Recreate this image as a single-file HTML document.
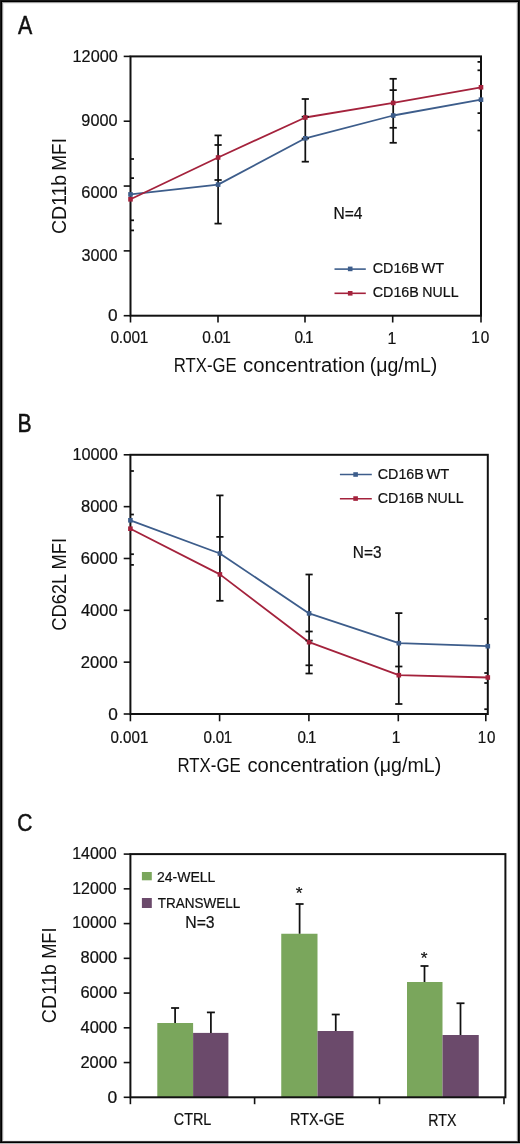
<!DOCTYPE html>
<html><head><meta charset="utf-8"><style>
html,body{margin:0;padding:0;background:#fff;overflow:hidden;width:520px;height:1144px;}
svg{display:block;will-change:transform;}
text{font-family:"Liberation Sans", sans-serif;fill:#111;}
</style></head><body>
<svg width="520" height="1144" viewBox="0 0 520 1144">
<rect x="0" y="0" width="520" height="1144" fill="#fff"/>
<rect x="0" y="0" width="520" height="1" fill="#161616"/>
<rect x="0" y="1" width="520" height="1" fill="#000"/>
<rect x="2" y="2" width="516" height="1" fill="#9c9c9c"/>
<rect x="3" y="3" width="514" height="1" fill="#eeeeee"/>
<rect x="0" y="0" width="1" height="1143" fill="#181818"/>
<rect x="1" y="1" width="1" height="1142" fill="#000"/>
<rect x="2" y="2" width="1" height="1139" fill="#929292"/>
<rect x="3" y="3" width="1" height="1137" fill="#e8e8e8"/>
<rect x="519" y="0" width="1" height="1143" fill="#181818"/>
<rect x="518" y="1" width="1" height="1142" fill="#000"/>
<rect x="517" y="2" width="1" height="1139" fill="#929292"/>
<rect x="516" y="3" width="1" height="1137" fill="#e8e8e8"/>
<rect x="3" y="1140" width="514" height="1" fill="#f2f2f2"/>
<rect x="2" y="1141" width="516" height="1" fill="#3a3a3a"/>
<rect x="0" y="1142" width="520" height="1" fill="#000"/>
<rect x="0" y="1143" width="520" height="1" fill="#b4b4b4"/>
<rect x="130.5" y="56.4" width="350.5" height="259.3" fill="none" stroke="#111" stroke-width="2.0"/>
<line x1="123.7" y1="315.7" x2="130.5" y2="315.7" stroke="#111" stroke-width="1.6"/>
<line x1="123.7" y1="250.88" x2="130.5" y2="250.88" stroke="#111" stroke-width="1.6"/>
<line x1="123.7" y1="186.05" x2="130.5" y2="186.05" stroke="#111" stroke-width="1.6"/>
<line x1="123.7" y1="121.22" x2="130.5" y2="121.22" stroke="#111" stroke-width="1.6"/>
<line x1="123.7" y1="56.4" x2="130.5" y2="56.4" stroke="#111" stroke-width="1.6"/>
<text font-size="17.183" stroke="#111" stroke-width="0.22" transform="translate(72.58,62.33) scale(0.9456,1)">12000</text>
<text font-size="16.761" stroke="#111" stroke-width="0.22" transform="translate(81.37,125.73) scale(0.9702,1)">9000</text>
<text font-size="16.761" stroke="#111" stroke-width="0.22" transform="translate(81.28,197.53) scale(0.9781,1)">6000</text>
<text font-size="17.042" stroke="#111" stroke-width="0.22" transform="translate(81.45,261.33) scale(0.9520,1)">3000</text>
<text font-size="17.324" stroke="#111" stroke-width="0.22" transform="translate(108.01,320.53) scale(0.9965,1)">0</text>
<line x1="130.5" y1="315.7" x2="130.5" y2="322.5" stroke="#111" stroke-width="1.6"/>
<line x1="218" y1="315.7" x2="218" y2="322.5" stroke="#111" stroke-width="1.6"/>
<line x1="305" y1="315.7" x2="305" y2="322.5" stroke="#111" stroke-width="1.6"/>
<line x1="392.7" y1="315.7" x2="392.7" y2="322.5" stroke="#111" stroke-width="1.6"/>
<line x1="481" y1="315.7" x2="481" y2="322.5" stroke="#111" stroke-width="1.6"/>
<text font-size="16.761" stroke="#111" stroke-width="0.22" letter-spacing="-0.146" transform="translate(110.38,343.33) scale(0.9200,1)">0.001</text>
<text font-size="16.761" stroke="#111" stroke-width="0.22" letter-spacing="-0.509" transform="translate(202.28,343.33) scale(0.9200,1)">0.01</text>
<text font-size="16.761" stroke="#111" stroke-width="0.22" letter-spacing="-1.329" transform="translate(294.58,343.33) scale(0.9200,1)">0.1</text>
<text font-size="17.246" stroke="#111" stroke-width="0.22" letter-spacing="0.000" transform="translate(387.50,343.50) scale(0.9200,1)">1</text>
<text font-size="16.761" stroke="#111" stroke-width="0.22" letter-spacing="0.957" transform="translate(471.34,343.33) scale(0.9200,1)">10</text>
<polyline points="130.5,194.4 218.1,184.6 305.3,138.3 393.2,115.5 481.0,99.7" fill="none" stroke="#3d5d8b" stroke-width="1.8" stroke-linejoin="round"/>
<polyline points="130.5,199.3 218.1,157.5 305.3,117.5 393.2,102.9 481.0,87.3" fill="none" stroke="#a4223c" stroke-width="1.8" stroke-linejoin="round"/>
<line x1="130.5" y1="159" x2="134" y2="159" stroke="#111" stroke-width="1.75"/>
<line x1="130.5" y1="178.1" x2="134" y2="178.1" stroke="#111" stroke-width="1.75"/>
<line x1="130.5" y1="220.3" x2="134" y2="220.3" stroke="#111" stroke-width="1.75"/>
<line x1="130.5" y1="230.4" x2="134" y2="230.4" stroke="#111" stroke-width="1.75"/>
<line x1="218.1" y1="135.4" x2="218.1" y2="223.6" stroke="#111" stroke-width="1.75"/>
<line x1="214.5" y1="135.4" x2="221.7" y2="135.4" stroke="#111" stroke-width="1.75"/>
<line x1="214.5" y1="145" x2="221.7" y2="145" stroke="#111" stroke-width="1.75"/>
<line x1="214.5" y1="180" x2="221.7" y2="180" stroke="#111" stroke-width="1.75"/>
<line x1="214.5" y1="223.6" x2="221.7" y2="223.6" stroke="#111" stroke-width="1.75"/>
<line x1="305.3" y1="99" x2="305.3" y2="161.7" stroke="#111" stroke-width="1.75"/>
<line x1="301.7" y1="99" x2="308.9" y2="99" stroke="#111" stroke-width="1.75"/>
<line x1="301.7" y1="116.7" x2="308.9" y2="116.7" stroke="#111" stroke-width="1.75"/>
<line x1="301.7" y1="138.5" x2="308.9" y2="138.5" stroke="#111" stroke-width="1.75"/>
<line x1="301.7" y1="161.7" x2="308.9" y2="161.7" stroke="#111" stroke-width="1.75"/>
<line x1="393.2" y1="78.8" x2="393.2" y2="142.8" stroke="#111" stroke-width="1.75"/>
<line x1="389.6" y1="78.8" x2="396.8" y2="78.8" stroke="#111" stroke-width="1.75"/>
<line x1="389.6" y1="90.1" x2="396.8" y2="90.1" stroke="#111" stroke-width="1.75"/>
<line x1="389.6" y1="127.8" x2="396.8" y2="127.8" stroke="#111" stroke-width="1.75"/>
<line x1="389.6" y1="142.8" x2="396.8" y2="142.8" stroke="#111" stroke-width="1.75"/>
<line x1="477.5" y1="61.9" x2="481" y2="61.9" stroke="#111" stroke-width="1.75"/>
<line x1="477.5" y1="70.3" x2="481" y2="70.3" stroke="#111" stroke-width="1.75"/>
<line x1="477.5" y1="113.1" x2="481" y2="113.1" stroke="#111" stroke-width="1.75"/>
<line x1="477.5" y1="130.5" x2="481" y2="130.5" stroke="#111" stroke-width="1.75"/>
<rect x="128.2" y="192.1" width="4.6" height="4.6" fill="#3d5d8b"/>
<rect x="215.8" y="182.3" width="4.6" height="4.6" fill="#3d5d8b"/>
<rect x="303" y="136" width="4.6" height="4.6" fill="#3d5d8b"/>
<rect x="390.9" y="113.2" width="4.6" height="4.6" fill="#3d5d8b"/>
<rect x="478.7" y="97.4" width="4.6" height="4.6" fill="#3d5d8b"/>
<rect x="128.2" y="197" width="4.6" height="4.6" fill="#a4223c"/>
<rect x="215.8" y="155.2" width="4.6" height="4.6" fill="#a4223c"/>
<rect x="303" y="115.2" width="4.6" height="4.6" fill="#a4223c"/>
<rect x="390.9" y="100.6" width="4.6" height="4.6" fill="#a4223c"/>
<rect x="478.7" y="85" width="4.6" height="4.6" fill="#a4223c"/>
<line x1="334.5" y1="269.1" x2="365.8" y2="269.1" stroke="#3d5d8b" stroke-width="1.6"/>
<rect x="347.9" y="266.6" width="4.6" height="4.6" fill="#3d5d8b"/>
<line x1="334.5" y1="293.3" x2="365.8" y2="293.3" stroke="#a4223c" stroke-width="1.6"/>
<rect x="347.9" y="291" width="4.6" height="4.6" fill="#a4223c"/>
<text font-size="15.357" stroke="#111" stroke-width="0.22" transform="translate(372.79,273.00) scale(0.9308,1)">CD16B</text>
<text font-size="15.357" stroke="#111" stroke-width="0.22" transform="translate(421.43,273.00) scale(0.9522,1)">WT</text>
<text font-size="15.357" stroke="#111" stroke-width="0.22" transform="translate(372.79,297.40) scale(0.9308,1)">CD16B</text>
<text font-size="15.357" stroke="#111" stroke-width="0.22" transform="translate(422.37,297.40) scale(0.9215,1)">NULL</text>
<text font-size="16.087" stroke="#111" stroke-width="0.22" transform="translate(333.46,218.80) scale(0.9670,1)">N=4</text>
<text font-size="19.571" transform="translate(173.76,371.60) scale(0.8546,1)">RTX-GE</text>
<text font-size="19.571" transform="translate(243.09,371.60) scale(1.0375,1)">concentration</text>
<text font-size="19.571" transform="translate(369.73,371.60) scale(0.9975,1)">(μg/mL)</text>
<text font-size="20.429" transform="translate(66.00,234.08) rotate(-90) scale(0.9558,1)">CD11b</text>
<text font-size="20.429" transform="translate(66.00,170.72) rotate(-90) scale(0.9285,1)">MFI</text>
<text font-size="25.255" stroke="#111" stroke-width="0.5" transform="translate(18.09,34.30) scale(0.8459,1)">A</text>
<rect x="130.4" y="454.8" width="357.4" height="259.2" fill="none" stroke="#111" stroke-width="2.0"/>
<line x1="123.7" y1="714" x2="130.4" y2="714" stroke="#111" stroke-width="1.6"/>
<line x1="123.7" y1="662.16" x2="130.4" y2="662.16" stroke="#111" stroke-width="1.6"/>
<line x1="123.7" y1="610.32" x2="130.4" y2="610.32" stroke="#111" stroke-width="1.6"/>
<line x1="123.7" y1="558.48" x2="130.4" y2="558.48" stroke="#111" stroke-width="1.6"/>
<line x1="123.7" y1="506.64" x2="130.4" y2="506.64" stroke="#111" stroke-width="1.6"/>
<line x1="123.7" y1="454.8" x2="130.4" y2="454.8" stroke="#111" stroke-width="1.6"/>
<text font-size="16.620" stroke="#111" stroke-width="0.22" transform="translate(72.43,459.63) scale(0.9810,1)">10000</text>
<text font-size="16.479" stroke="#111" stroke-width="0.22" transform="translate(80.96,511.54) scale(1.0038,1)">8000</text>
<text font-size="16.690" stroke="#111" stroke-width="0.22" transform="translate(80.87,563.58) scale(0.9934,1)">6000</text>
<text font-size="16.972" stroke="#111" stroke-width="0.22" transform="translate(80.89,615.53) scale(0.9766,1)">4000</text>
<text font-size="16.690" stroke="#111" stroke-width="0.22" transform="translate(80.87,667.93) scale(0.9934,1)">2000</text>
<text font-size="16.620" stroke="#111" stroke-width="0.22" transform="translate(108.21,719.83) scale(1.0387,1)">0</text>
<line x1="130.4" y1="714" x2="130.4" y2="721.3" stroke="#111" stroke-width="1.6"/>
<line x1="219.6" y1="714" x2="219.6" y2="721.3" stroke="#111" stroke-width="1.6"/>
<line x1="308.9" y1="714" x2="308.9" y2="721.3" stroke="#111" stroke-width="1.6"/>
<line x1="398.3" y1="714" x2="398.3" y2="721.3" stroke="#111" stroke-width="1.6"/>
<line x1="485.8" y1="714" x2="485.8" y2="721.3" stroke="#111" stroke-width="1.6"/>
<text font-size="16.479" stroke="#111" stroke-width="0.22" letter-spacing="0.024" transform="translate(110.39,742.54) scale(0.9200,1)">0.001</text>
<text font-size="16.479" stroke="#111" stroke-width="0.22" letter-spacing="-0.262" transform="translate(203.49,742.54) scale(0.9200,1)">0.01</text>
<text font-size="16.479" stroke="#111" stroke-width="0.22" letter-spacing="-1.092" transform="translate(297.49,742.54) scale(0.9200,1)">0.1</text>
<text font-size="16.957" stroke="#111" stroke-width="0.22" letter-spacing="0.000" transform="translate(391.63,742.70) scale(0.9200,1)">1</text>
<text font-size="16.479" stroke="#111" stroke-width="0.22" letter-spacing="0.912" transform="translate(477.66,742.54) scale(0.9200,1)">10</text>
<polyline points="130.4,520.3 219.9,553.5 309.1,613.4 398.8,643.2 487.8,646.2" fill="none" stroke="#3d5d8b" stroke-width="1.8" stroke-linejoin="round"/>
<polyline points="130.4,528.7 219.9,574.4 309.1,642.2 398.8,675.2 487.8,677.5" fill="none" stroke="#a4223c" stroke-width="1.8" stroke-linejoin="round"/>
<line x1="130.4" y1="471" x2="133.9" y2="471" stroke="#111" stroke-width="1.75"/>
<line x1="130.4" y1="514.5" x2="133.9" y2="514.5" stroke="#111" stroke-width="1.75"/>
<line x1="130.4" y1="554.2" x2="133.9" y2="554.2" stroke="#111" stroke-width="1.75"/>
<line x1="130.4" y1="564.9" x2="133.9" y2="564.9" stroke="#111" stroke-width="1.75"/>
<line x1="219.9" y1="495.4" x2="219.9" y2="600.8" stroke="#111" stroke-width="1.75"/>
<line x1="216.3" y1="495.4" x2="223.5" y2="495.4" stroke="#111" stroke-width="1.75"/>
<line x1="216.3" y1="536.9" x2="223.5" y2="536.9" stroke="#111" stroke-width="1.75"/>
<line x1="216.3" y1="600.8" x2="223.5" y2="600.8" stroke="#111" stroke-width="1.75"/>
<line x1="309.1" y1="574.5" x2="309.1" y2="673.5" stroke="#111" stroke-width="1.75"/>
<line x1="305.5" y1="574.5" x2="312.7" y2="574.5" stroke="#111" stroke-width="1.75"/>
<line x1="305.5" y1="631.5" x2="312.7" y2="631.5" stroke="#111" stroke-width="1.75"/>
<line x1="305.5" y1="640.6" x2="312.7" y2="640.6" stroke="#111" stroke-width="1.75"/>
<line x1="305.5" y1="665.3" x2="312.7" y2="665.3" stroke="#111" stroke-width="1.75"/>
<line x1="305.5" y1="673.5" x2="312.7" y2="673.5" stroke="#111" stroke-width="1.75"/>
<line x1="398.8" y1="613.1" x2="398.8" y2="704" stroke="#111" stroke-width="1.75"/>
<line x1="395.2" y1="613.1" x2="402.4" y2="613.1" stroke="#111" stroke-width="1.75"/>
<line x1="395.2" y1="666.5" x2="402.4" y2="666.5" stroke="#111" stroke-width="1.75"/>
<line x1="395.2" y1="704" x2="402.4" y2="704" stroke="#111" stroke-width="1.75"/>
<line x1="484.3" y1="618.9" x2="487.8" y2="618.9" stroke="#111" stroke-width="1.75"/>
<line x1="484.3" y1="673" x2="487.8" y2="673" stroke="#111" stroke-width="1.75"/>
<line x1="484.3" y1="683" x2="487.8" y2="683" stroke="#111" stroke-width="1.75"/>
<line x1="484.3" y1="709.2" x2="487.8" y2="709.2" stroke="#111" stroke-width="1.75"/>
<rect x="128.1" y="518" width="4.6" height="4.6" fill="#3d5d8b"/>
<rect x="217.6" y="551.2" width="4.6" height="4.6" fill="#3d5d8b"/>
<rect x="306.8" y="611.1" width="4.6" height="4.6" fill="#3d5d8b"/>
<rect x="396.5" y="640.9" width="4.6" height="4.6" fill="#3d5d8b"/>
<rect x="485.5" y="643.9" width="4.6" height="4.6" fill="#3d5d8b"/>
<rect x="128.1" y="526.4" width="4.6" height="4.6" fill="#a4223c"/>
<rect x="217.6" y="572.1" width="4.6" height="4.6" fill="#a4223c"/>
<rect x="306.8" y="639.9" width="4.6" height="4.6" fill="#a4223c"/>
<rect x="396.5" y="672.9" width="4.6" height="4.6" fill="#a4223c"/>
<rect x="485.5" y="675.2" width="4.6" height="4.6" fill="#a4223c"/>
<line x1="339.9" y1="474.6" x2="371.8" y2="474.6" stroke="#3d5d8b" stroke-width="1.5"/>
<rect x="353.3" y="472.2" width="4.6" height="4.6" fill="#3d5d8b"/>
<line x1="339.9" y1="498.65" x2="371.8" y2="498.65" stroke="#a4223c" stroke-width="1.5"/>
<rect x="353.3" y="496.25" width="4.6" height="4.6" fill="#a4223c"/>
<text font-size="15.357" stroke="#111" stroke-width="0.22" transform="translate(377.79,479.00) scale(0.9308,1)">CD16B</text>
<text font-size="15.357" stroke="#111" stroke-width="0.22" transform="translate(426.43,479.00) scale(0.9607,1)">WT</text>
<text font-size="15.357" stroke="#111" stroke-width="0.22" transform="translate(377.79,503.20) scale(0.9308,1)">CD16B</text>
<text font-size="15.357" stroke="#111" stroke-width="0.22" transform="translate(427.37,503.20) scale(0.9215,1)">NULL</text>
<text font-size="15.775" stroke="#111" stroke-width="0.22" transform="translate(352.87,558.44) scale(0.9764,1)">N=3</text>
<text font-size="19.714" transform="translate(177.45,771.50) scale(0.8540,1)">RTX-GE</text>
<text font-size="19.714" transform="translate(247.39,771.50) scale(1.0274,1)">concentration</text>
<text font-size="19.714" transform="translate(373.22,771.50) scale(0.9963,1)">(μg/mL)</text>
<text font-size="20.571" transform="translate(66.00,630.82) rotate(-90) scale(0.8920,1)">CD62L</text>
<text font-size="20.571" transform="translate(66.00,569.47) rotate(-90) scale(0.8938,1)">MFI</text>
<text font-size="25.072" stroke="#111" stroke-width="0.5" transform="translate(17.41,431.90) scale(0.8424,1)">B</text>
<rect x="157.3" y="1023" width="35.8" height="74.3" fill="#7aa65c"/>
<rect x="193.1" y="1032.9" width="35.3" height="64.4" fill="#6b4a6b"/>
<rect x="281.25" y="933.75" width="36.25" height="163.55" fill="#7aa65c"/>
<rect x="317.5" y="1031" width="36" height="66.3" fill="#6b4a6b"/>
<rect x="407" y="982" width="35.5" height="115.3" fill="#7aa65c"/>
<rect x="442.5" y="1035" width="36.25" height="62.3" fill="#6b4a6b"/>
<line x1="175.1" y1="1008" x2="175.1" y2="1023" stroke="#111" stroke-width="1.75"/>
<line x1="171.1" y1="1008" x2="179.1" y2="1008" stroke="#111" stroke-width="1.75"/>
<line x1="210.9" y1="1012.4" x2="210.9" y2="1032.9" stroke="#111" stroke-width="1.75"/>
<line x1="206.9" y1="1012.4" x2="214.9" y2="1012.4" stroke="#111" stroke-width="1.75"/>
<line x1="299.6" y1="904" x2="299.6" y2="933.75" stroke="#111" stroke-width="1.75"/>
<line x1="295.6" y1="904" x2="303.6" y2="904" stroke="#111" stroke-width="1.75"/>
<line x1="335.75" y1="1014.5" x2="335.75" y2="1031" stroke="#111" stroke-width="1.75"/>
<line x1="331.75" y1="1014.5" x2="339.75" y2="1014.5" stroke="#111" stroke-width="1.75"/>
<line x1="424.5" y1="966" x2="424.5" y2="982" stroke="#111" stroke-width="1.75"/>
<line x1="420.5" y1="966" x2="428.5" y2="966" stroke="#111" stroke-width="1.75"/>
<line x1="460.5" y1="1003.25" x2="460.5" y2="1035" stroke="#111" stroke-width="1.75"/>
<line x1="456.5" y1="1003.25" x2="464.5" y2="1003.25" stroke="#111" stroke-width="1.75"/>
<rect x="130.4" y="854.1" width="375" height="243.2" fill="none" stroke="#111" stroke-width="2.0"/>
<line x1="123.7" y1="1097.3" x2="130.4" y2="1097.3" stroke="#111" stroke-width="1.6"/>
<line x1="123.7" y1="1062.56" x2="130.4" y2="1062.56" stroke="#111" stroke-width="1.6"/>
<line x1="123.7" y1="1027.81" x2="130.4" y2="1027.81" stroke="#111" stroke-width="1.6"/>
<line x1="123.7" y1="993.07" x2="130.4" y2="993.07" stroke="#111" stroke-width="1.6"/>
<line x1="123.7" y1="958.33" x2="130.4" y2="958.33" stroke="#111" stroke-width="1.6"/>
<line x1="123.7" y1="923.59" x2="130.4" y2="923.59" stroke="#111" stroke-width="1.6"/>
<line x1="123.7" y1="888.84" x2="130.4" y2="888.84" stroke="#111" stroke-width="1.6"/>
<line x1="123.7" y1="854.1" x2="130.4" y2="854.1" stroke="#111" stroke-width="1.6"/>
<text font-size="16.690" stroke="#111" stroke-width="0.22" transform="translate(72.20,858.58) scale(0.9578,1)">14000</text>
<text font-size="16.761" stroke="#111" stroke-width="0.22" transform="translate(72.20,893.53) scale(0.9537,1)">12000</text>
<text font-size="16.761" stroke="#111" stroke-width="0.22" transform="translate(72.20,928.13) scale(0.9537,1)">10000</text>
<text font-size="16.972" stroke="#111" stroke-width="0.22" transform="translate(80.51,963.13) scale(0.9705,1)">8000</text>
<text font-size="16.338" stroke="#111" stroke-width="0.22" transform="translate(80.42,998.24) scale(1.0106,1)">6000</text>
<text font-size="16.338" stroke="#111" stroke-width="0.22" transform="translate(80.59,1033.14) scale(1.0059,1)">4000</text>
<text font-size="16.338" stroke="#111" stroke-width="0.22" transform="translate(80.42,1067.74) scale(1.0106,1)">2000</text>
<text font-size="15.915" stroke="#111" stroke-width="0.22" transform="translate(107.50,1102.54) scale(1.0979,1)">0</text>
<line x1="130.4" y1="1097.3" x2="130.4" y2="1104.2" stroke="#111" stroke-width="1.6"/>
<line x1="254.6" y1="1097.3" x2="254.6" y2="1104.2" stroke="#111" stroke-width="1.6"/>
<line x1="379.5" y1="1097.3" x2="379.5" y2="1104.2" stroke="#111" stroke-width="1.6"/>
<line x1="504" y1="1097.3" x2="504" y2="1104.2" stroke="#111" stroke-width="1.6"/>
<text font-size="16.620" stroke="#111" stroke-width="0.22" transform="translate(173.78,1125.33) scale(0.8657,1)">CTRL</text>
<text font-size="16.408" stroke="#111" stroke-width="0.22" transform="translate(290.09,1125.24) scale(0.8802,1)">RTX-GE</text>
<text font-size="17.246" stroke="#111" stroke-width="0.22" transform="translate(428.36,1125.60) scale(0.8235,1)">RTX</text>
<text font-size="16.857" stroke="#111" stroke-width="0.22" transform="translate(295.74,898.53) scale(1.0360,1)">*</text>
<text font-size="17.143" stroke="#111" stroke-width="0.22" transform="translate(420.84,963.83) scale(1.0188,1)">*</text>
<rect x="141.9" y="872" width="9.9" height="8.3" fill="#7aa65c"/>
<rect x="141.9" y="898" width="9.9" height="10" fill="#6b4a6b"/>
<text font-size="15.143" stroke="#111" stroke-width="0.22" transform="translate(157.00,881.90) scale(0.9263,1)">24-WELL</text>
<text font-size="15.493" stroke="#111" stroke-width="0.22" transform="translate(157.76,907.55) scale(0.8730,1)">TRANSWELL</text>
<text font-size="15.775" stroke="#111" stroke-width="0.22" transform="translate(185.24,927.94) scale(1.0019,1)">N=3</text>
<text font-size="20.571" transform="translate(55.90,1023.17) rotate(-90) scale(0.9458,1)">CD11b</text>
<text font-size="20.571" transform="translate(55.90,958.86) rotate(-90) scale(0.8844,1)">MFI</text>
<text font-size="23.944" stroke="#111" stroke-width="0.5" transform="translate(17.25,830.56) scale(0.8751,1)">C</text>
</svg>
</body></html>
